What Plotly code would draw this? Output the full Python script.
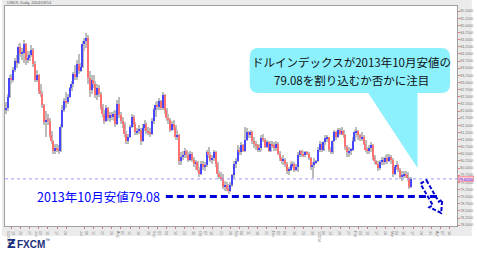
import plotly.graph_objects as go
import pandas as pd
import math

# ---------------- data (USD index, daily, 2013-05-08 .. 2014-03-14) ----------------
OPEN = [
    82.05, 82.10, 82.50,
    83.15, 83.10, 83.45, 83.75, 83.70,
    84.25, 84.00, 84.05, 84.35, 83.80,
    83.85, 83.95, 84.15, 83.65, 83.10,
    83.25, 82.70, 82.60, 82.20, 81.60,
    81.70, 81.65, 81.15, 80.95, 80.60,
    80.70, 80.65, 80.60, 81.45, 82.05,
    82.35, 82.30, 82.50, 82.80, 82.95,
    83.30, 83.20, 83.65, 83.40, 83.55,
    84.35, 84.45, 84.55, 83.15, 82.75,
    83.10, 82.95, 82.55, 82.80, 82.60,
    82.15, 81.90, 81.65, 82.10, 81.75,
    81.85, 81.80, 81.90, 81.55, 82.25,
    81.85, 81.65, 81.55, 81.20, 80.95,
    81.10, 81.45, 81.80, 81.55, 81.25,
    81.30, 81.35, 80.95, 81.40, 81.55,
    81.30, 81.25, 81.20, 81.65, 82.05,
    82.20, 82.15, 82.35, 82.10, 82.55,
    82.05, 81.75, 81.70, 81.35, 81.55,
    81.45, 81.10, 81.15, 80.25, 80.40,
    80.45, 80.60, 80.45, 80.30, 80.50,
    80.30, 80.15, 80.20, 79.95, 79.80,
    80.15, 80.05, 80.10, 80.55, 80.45,
    80.30, 80.35, 80.55, 80.15, 79.80,
    79.70, 79.65, 79.35, 79.40, 79.25,
    79.20, 79.40, 79.75, 80.15, 80.25,
    80.65, 80.55, 80.80, 80.60, 81.00,
    81.25, 81.15, 81.25, 80.95, 80.85,
    80.80, 80.65, 80.70, 81.05, 81.00,
    80.75, 80.90, 80.60, 80.85, 80.80,
    80.70, 80.85, 80.50, 80.35, 80.25,
    80.30, 80.15, 79.90, 79.95, 80.10,
    80.15, 79.95, 80.05, 80.45, 80.60,
    80.50, 80.45, 80.55, 80.50, 80.35,
    80.05, 80.10, 80.20, 80.25, 80.65,
    80.85, 80.65, 80.90, 81.05, 81.10,
    80.65, 80.55, 80.95, 81.25, 81.10,
    81.35, 81.20, 81.30, 81.15, 80.75,
    80.55, 80.60, 80.65, 80.95, 81.25,
    81.30, 81.15, 81.05, 81.10, 80.85,
    80.65, 80.60, 80.70, 80.80, 80.40,
    80.25, 80.15, 80.00, 80.20, 80.30,
    80.20, 80.35, 80.25, 80.40, 80.30,
    79.80, 80.05, 80.10, 79.95, 79.70,
    79.75, 79.80, 79.75, 79.65, 79.35,
]
HIGH = [
    82.30, 82.60, 83.25,
    83.30, 83.55, 83.85, 83.95, 84.35,
    84.40, 84.20, 84.50, 84.40, 84.10,
    84.10, 84.30, 84.20, 83.75, 83.45,
    83.30, 82.95, 82.70, 82.25, 82.00,
    81.90, 81.75, 81.30, 81.00, 80.85,
    80.85, 80.80, 81.55, 82.20, 82.45,
    82.65, 82.60, 82.85, 83.05, 83.35,
    83.60, 83.80, 84.00, 83.70, 84.45,
    84.55, 84.75, 84.65, 83.40, 83.25,
    83.25, 83.05, 82.95, 82.90, 82.65,
    82.25, 82.05, 82.20, 82.15, 81.95,
    81.95, 82.00, 82.05, 82.40, 82.50,
    81.95, 81.80, 81.60, 81.30, 81.20,
    81.50, 81.90, 81.85, 81.60, 81.40,
    81.50, 81.40, 81.55, 81.70, 81.60,
    81.45, 81.40, 81.75, 82.10, 82.30,
    82.35, 82.45, 82.40, 82.65, 82.60,
    82.10, 81.90, 81.75, 81.65, 81.70,
    81.50, 81.35, 81.20, 80.55, 80.60,
    80.70, 80.65, 80.55, 80.60, 80.55,
    80.40, 80.30, 80.25, 80.05, 80.25,
    80.25, 80.20, 80.65, 80.75, 80.55,
    80.45, 80.65, 80.60, 80.20, 79.90,
    79.85, 79.80, 79.55, 79.50, 79.45,
    79.50, 79.80, 80.25, 80.35, 80.80,
    80.75, 80.90, 80.85, 81.45, 81.40,
    81.30, 81.35, 81.30, 81.10, 80.95,
    80.85, 80.85, 81.15, 81.20, 81.05,
    81.00, 80.95, 80.95, 80.95, 80.90,
    80.95, 80.90, 80.60, 80.40, 80.45,
    80.35, 80.20, 80.05, 80.20, 80.25,
    80.20, 80.15, 80.55, 80.65, 80.65,
    80.60, 80.60, 80.60, 80.55, 80.40,
    80.20, 80.35, 80.30, 80.75, 80.95,
    80.90, 80.95, 81.15, 81.15, 81.10,
    80.75, 81.00, 81.35, 81.30, 81.40,
    81.40, 81.45, 81.35, 81.20, 80.80,
    80.75, 80.70, 81.10, 81.35, 81.45,
    81.35, 81.20, 81.25, 81.15, 81.00,
    80.75, 80.80, 80.90, 80.85, 80.45,
    80.30, 80.25, 80.30, 80.40, 80.40,
    80.45, 80.50, 80.50, 80.45, 80.35,
    80.10, 80.25, 80.15, 80.00, 79.90,
    79.90, 79.90, 79.85, 79.70, 79.70,
]
LOW = [
    81.90, 82.00, 82.45,
    82.95, 83.00, 83.35, 83.50, 83.65,
    83.90, 83.80, 83.70, 83.60, 83.70,
    83.75, 83.90, 83.55, 83.00, 83.00,
    82.60, 82.50, 82.10, 81.50, 81.10,
    81.50, 81.05, 80.85, 80.50, 80.50,
    80.55, 80.50, 80.55, 81.40, 81.95,
    82.10, 82.25, 82.45, 82.70, 82.85,
    83.10, 83.10, 83.30, 83.35, 83.50,
    84.10, 84.20, 82.95, 82.50, 82.60,
    82.80, 82.45, 82.40, 82.50, 82.05,
    81.80, 81.55, 81.60, 81.65, 81.60,
    81.70, 81.65, 81.45, 81.50, 81.75,
    81.55, 81.40, 81.10, 80.85, 80.85,
    81.05, 81.40, 81.45, 81.15, 81.15,
    81.20, 80.80, 80.90, 81.30, 81.20,
    81.15, 81.10, 81.15, 81.55, 81.80,
    82.05, 82.05, 82.05, 82.05, 81.90,
    81.65, 81.55, 81.25, 81.30, 81.35,
    81.00, 81.00, 80.10, 80.10, 80.30,
    80.35, 80.35, 80.20, 80.25, 80.20,
    80.05, 79.95, 79.85, 79.70, 79.75,
    79.95, 79.90, 80.05, 80.35, 80.20,
    80.15, 80.25, 80.05, 79.70, 79.60,
    79.55, 79.25, 79.20, 79.20, 79.08,
    79.15, 79.35, 79.65, 80.00, 80.20,
    80.45, 80.45, 80.55, 80.55, 80.95,
    81.05, 81.05, 80.85, 80.70, 80.65,
    80.55, 80.55, 80.60, 80.90, 80.70,
    80.70, 80.55, 80.55, 80.70, 80.60,
    80.60, 80.45, 80.25, 80.15, 80.10,
    80.05, 79.80, 79.75, 79.90, 80.00,
    79.85, 79.90, 79.85, 80.40, 80.40,
    80.40, 80.40, 80.45, 80.30, 79.95,
    79.65, 80.00, 80.15, 80.20, 80.55,
    80.55, 80.60, 80.80, 80.90, 80.55,
    80.50, 80.50, 80.90, 81.00, 81.05,
    81.15, 81.15, 81.05, 80.65, 80.40,
    80.40, 80.45, 80.60, 80.90, 81.10,
    81.00, 80.95, 80.95, 80.80, 80.55,
    80.50, 80.50, 80.55, 80.30, 80.15,
    80.10, 79.90, 79.95, 80.10, 80.10,
    80.15, 80.15, 80.20, 80.15, 79.70,
    79.75, 79.95, 79.85, 79.60, 79.55,
    79.65, 79.65, 79.55, 79.25, 79.30,
]
CLOSE = [
    82.10, 82.50, 83.15,
    83.10, 83.45, 83.75, 83.70, 84.25,
    84.00, 84.05, 84.35, 83.80, 83.85,
    83.95, 84.15, 83.65, 83.10, 83.25,
    82.70, 82.60, 82.20, 81.60, 81.70,
    81.65, 81.15, 80.95, 80.60, 80.70,
    80.65, 80.60, 81.45, 82.05, 82.35,
    82.30, 82.50, 82.80, 82.95, 83.30,
    83.20, 83.65, 83.40, 83.55, 84.35,
    84.45, 84.55, 83.15, 82.75, 83.10,
    82.95, 82.55, 82.80, 82.60, 82.15,
    81.90, 81.65, 82.10, 81.75, 81.85,
    81.80, 81.90, 81.55, 82.25, 81.85,
    81.65, 81.55, 81.20, 80.95, 81.10,
    81.45, 81.80, 81.55, 81.25, 81.30,
    81.35, 80.95, 81.40, 81.55, 81.30,
    81.25, 81.20, 81.65, 82.05, 82.20,
    82.15, 82.35, 82.10, 82.55, 82.05,
    81.75, 81.70, 81.35, 81.55, 81.45,
    81.10, 81.15, 80.25, 80.40, 80.45,
    80.60, 80.45, 80.30, 80.50, 80.30,
    80.15, 80.20, 79.95, 79.80, 80.15,
    80.05, 80.10, 80.55, 80.45, 80.30,
    80.35, 80.55, 80.15, 79.80, 79.70,
    79.65, 79.35, 79.40, 79.25, 79.20,
    79.40, 79.75, 80.15, 80.25, 80.65,
    80.55, 80.80, 80.60, 81.00, 81.25,
    81.15, 81.25, 80.95, 80.85, 80.80,
    80.65, 80.70, 81.05, 81.00, 80.75,
    80.90, 80.60, 80.85, 80.80, 80.70,
    80.85, 80.50, 80.35, 80.25, 80.30,
    80.15, 79.90, 79.95, 80.10, 80.15,
    79.95, 80.05, 80.45, 80.60, 80.50,
    80.45, 80.55, 80.50, 80.35, 80.05,
    80.10, 80.20, 80.25, 80.65, 80.85,
    80.65, 80.90, 81.05, 81.10, 80.65,
    80.55, 80.95, 81.25, 81.10, 81.35,
    81.20, 81.30, 81.15, 80.75, 80.55,
    80.60, 80.65, 80.95, 81.25, 81.30,
    81.15, 81.05, 81.10, 80.85, 80.65,
    80.60, 80.70, 80.80, 80.40, 80.25,
    80.15, 80.00, 80.20, 80.30, 80.20,
    80.35, 80.25, 80.40, 80.30, 79.80,
    80.05, 80.10, 79.95, 79.70, 79.75,
    79.80, 79.75, 79.65, 79.35, 79.62,
]
DATES = pd.bdate_range("2013-05-08", "2014-03-14") + pd.Timedelta(hours=12)
CURRENT_PRICE = 79.62
OCT2013_LOW_LINE = 79.0   # hand-drawn level line for the 79.08 low

TICK_DATES = ["2013-05-13", "2013-05-20", "2013-05-27", "2013-06-03", "2013-06-10",
              "2013-06-17", "2013-06-24", "2013-07-08", "2013-07-15", "2013-07-22",
              "2013-07-29", "2013-08-05", "2013-08-12", "2013-08-19", "2013-08-26",
              "2013-09-02", "2013-09-09", "2013-09-16", "2013-09-23", "2013-09-30",
              "2013-10-07", "2013-10-14", "2013-10-21", "2013-10-28", "2013-11-04",
              "2013-11-11", "2013-11-18", "2013-11-25", "2013-12-02", "2013-12-09",
              "2013-12-16", "2013-12-23", "2013-12-30", "2014-01-06", "2014-01-13",
              "2014-01-20", "2014-01-27", "2014-02-03", "2014-02-10", "2014-02-17",
              "2014-02-24", "2014-03-03", "2014-03-10", "2014-03-17", "2014-03-24",
              "2014-03-31", "2014-04-07", "2014-04-14"]
TICK_DAYS = ["13", "20", "27", "03", "10", "17", "24", "08", "15", "22", "29",
             "05", "12", "19", "26", "02", "09", "16", "23", "30", "07", "14", "21", "28",
             "04", "11", "18", "25", "02", "09", "16", "23", "30", "06", "13", "20", "27",
             "03", "10", "17", "24", "03", "10", "17", "24", "31", "07", "14"]
TICK_MONTHS = ["5/2013", "", "", "Jun", "", "", "", "Jul", "", "", "",
               "Aug", "", "", "", "Sep", "", "", "", "", "Oct", "", "", "",
               "Nov", "", "", "", "Dec", "", "", "", "", "1/2014", "", "", "",
               "Feb", "", "", "", "Mar", "", "", "", "", "Apr", ""]

assert len(DATES) == len(OPEN) == len(HIGH) == len(LOW) == len(CLOSE)
assert len(TICK_DATES) == len(TICK_DAYS) == len(TICK_MONTHS)

# ---------------- geometry helpers (pixel -> paper) ----------------
ML, MR, MT, MB = 4, 15, 6, 30
W, H = 477 - ML - MR, 256 - MT - MB


def fx(q):
    return (q - ML) / W


def fy(p):
    return (256 - MB - p) / H


DAY_MS = 86400000
UP, DOWN, WICK = "#4646ff", "#ff7272", "#bcbcbc"

fig = go.Figure()
fig.add_trace(go.Bar(
    x=DATES, y=[h - l for h, l in zip(HIGH, LOW)], base=LOW,
    width=0.6 * DAY_MS, marker_color=WICK, marker_line_width=0,
    hoverinfo="skip", showlegend=False))
fig.add_trace(go.Bar(
    x=DATES, y=[max(abs(c - o), 0.02) for o, c in zip(OPEN, CLOSE)],
    base=[min(o, c) for o, c in zip(OPEN, CLOSE)],
    width=0.78 * DAY_MS,
    marker_color=[UP if c >= o else DOWN for o, c in zip(OPEN, CLOSE)],
    marker_line_width=0, showlegend=False))

shapes = []
shapes.append(dict(type="rect", xref="paper", yref="paper", layer="below",
                   x0=fx(1), x1=fx(477), y0=fy(236), y1=fy(0),
                   fillcolor="#ebebeb", line_width=0))
shapes.append(dict(type="rect", xref="paper", yref="paper", layer="below",
                   x0=0, x1=1, y0=0, y1=1, fillcolor="white", line_width=0))
shapes.append(dict(type="line", xref="paper", yref="y", x0=0, x1=1,
                   y0=CURRENT_PRICE, y1=CURRENT_PRICE,
                   line=dict(color="#9a9aff", width=1, dash="dot")))
shapes.append(dict(type="line", xref="paper", yref="y", x0=fx(167), x1=fx(442),
                   y0=OCT2013_LOW_LINE, y1=OCT2013_LOW_LINE,
                   line=dict(color="#0000dd", width=3, dash="7px,4px")))

# callout bubble
bx0, bx1, by0, by1, r = 252, 455, 48, 93, 9
pts = [
    ("M", bx0 + r, by0), ("L", bx1 - r, by0), ("Q", bx1, by0, bx1, by0 + r),
    ("L", bx1, by1 - r), ("Q", bx1, by1, bx1 - r, by1),
    ("L", 422, by1), ("L", 422, 168), ("L", 372, by1),
    ("L", bx0 + r, by1), ("Q", bx0, by1, bx0, by1 - r),
    ("L", bx0, by0 + r), ("Q", bx0, by0, bx0 + r, by0),
]
path = ""
for p in pts:
    if p[0] == "Q":
        path += f"Q{fx(p[1]):.5f},{fy(p[2]):.5f} {fx(p[3]):.5f},{fy(p[4]):.5f} "
    else:
        path += f"{p[0]}{fx(p[1]):.5f},{fy(p[2]):.5f} "
path += "Z"
shapes.append(dict(type="path", xref="paper", yref="paper", layer="above",
                   path=path, fillcolor="#8cf0fd", line_width=0))

# dashed outline arrow
tx, ty, px_, py_ = 428, 182, 446, 213
dx, dy = px_ - tx, py_ - ty
ln = math.hypot(dx, dy)
ux, uy = dx / ln, dy / ln
nx, ny = uy, -ux
sw, hw, hl = 3.5, 7.5, 11
sx, sy = tx + (ln - hl) * ux, ty + (ln - hl) * uy
apts = [(tx + sw * nx, ty + sw * ny), (sx + sw * nx, sy + sw * ny),
        (sx + hw * nx, sy + hw * ny), (px_, py_),
        (sx - hw * nx, sy - hw * ny), (sx - sw * nx, sy - sw * ny),
        (tx - sw * nx, ty - sw * ny)]
apath = "M" + " L".join(f"{fx(a):.5f},{fy(b):.5f}" for a, b in apts) + " Z"
shapes.append(dict(type="path", xref="paper", yref="paper", layer="above",
                   path=apath, line=dict(color="#0000cc", width=2, dash="4px,2px")))

JP = "Noto Sans CJK JP"
annotations = [
    dict(xref="paper", yref="paper", x=fx(355), y=fy(62), showarrow=False,
         text="ドルインデックスが2013年10月安値の", font=dict(family=JP, size=11.5, color="#111"),
         xanchor="center", yanchor="middle"),
    dict(xref="paper", yref="paper", x=fx(355), y=fy(80), showarrow=False,
         text="79.08を割り込むか否かに注目", font=dict(family=JP, size=11.5, color="#111"),
         xanchor="center", yanchor="middle"),
    dict(xref="paper", yref="paper", x=fx(34), y=fy(196), showarrow=False,
         text="2013年10月安値79.08", font=dict(family=JP, size=12.5, color="#0000ff"),
         xanchor="left", yanchor="middle"),
    dict(xref="paper", yref="y", x=1.0, y=CURRENT_PRICE, showarrow=False,
         text=f"{CURRENT_PRICE:.4f}", font=dict(family="Arial", size=4, color="#2020ff"),
         xanchor="left", yanchor="middle", xshift=1, bgcolor="#ffc8d2",
         bordercolor="#ff7070", borderwidth=0.5, borderpad=0),
    dict(xref="paper", yref="paper", x=fx(4), y=fy(3), showarrow=False,
         text="USDX, Daily, 2014/03/14", font=dict(family="Arial", size=4, color="#555"),
         xanchor="left", yanchor="middle"),
    dict(xref="paper", yref="paper", x=fx(4), y=fy(244), showarrow=False,
         text="<b>Ƶ</b>", font=dict(family="DejaVu Sans", size=12, color="#1c2f7a"),
         xanchor="left", yanchor="middle"),
    dict(xref="paper", yref="paper", x=fx(14), y=fy(244), showarrow=False,
         text="<b>FXCM</b>", font=dict(family="Liberation Sans", size=10, color="#1c2f7a"),
         xanchor="left", yanchor="middle"),
    dict(xref="paper", yref="paper", x=fx(43), y=fy(240), showarrow=False,
         text="™", font=dict(family="Liberation Sans", size=5, color="#1c2f7a"),
         xanchor="left", yanchor="middle"),
]

fig.update_layout(
    width=477, height=256, autosize=False,
    margin=dict(l=ML, r=MR, t=MT, b=MB, pad=0),
    paper_bgcolor="white", plot_bgcolor="white",
    barmode="overlay", bargap=0, showlegend=False,
    shapes=shapes, annotations=annotations,
    xaxis=dict(
        type="date",
        range=["2013-05-08 00:00", "2014-04-18 14:00"],
        rangebreaks=[dict(bounds=["sat", "mon"])],
        rangeslider=dict(visible=False),
        tickvals=[pd.Timestamp(d) + pd.Timedelta(hours=12) for d in TICK_DATES],
        ticktext=[d + "<br>" + m if m else d for d, m in zip(TICK_DAYS, TICK_MONTHS)],
        tickfont=dict(family="Arial", size=3.6, color="#777"),
        ticks="outside", ticklen=1.5, tickcolor="#c08080", tickwidth=0.5,
        showgrid=False, zeroline=False,
        showline=True, linecolor="#a0a0a0", linewidth=1, mirror=True,
    ),
    yaxis=dict(
        side="right",
        range=[77.97, 85.68],
        dtick=0.25, tick0=0, tickformat=".4f",
        tickfont=dict(family="Arial", size=3.6, color="#777"),
        ticks="outside", ticklen=1.5, tickcolor="#e08080", tickwidth=0.5,
        showgrid=False, zeroline=False,
        showline=True, linecolor="#a0a0a0", linewidth=1, mirror=True,
    ),
)

fig.write_html("out.html")
